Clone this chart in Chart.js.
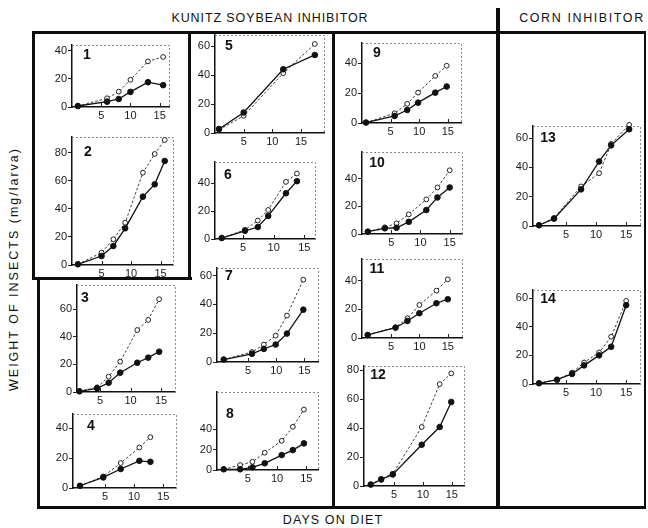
<!DOCTYPE html>
<html>
<head>
<meta charset="utf-8">
<script src="https://cdn.jsdelivr.net/npm/chart.js@4.4.1/dist/chart.umd.min.js"></script>
<style>
  html, body { margin: 0; padding: 0; background: #fff; }
  #page { position: relative; width: 648px; height: 528px; overflow: hidden;
          font-family: "Liberation Sans", Arial, sans-serif; color: #111; }
  .rule { position: absolute; background: #0d0d0d; }
  .title { position: absolute; white-space: nowrap; font-size: 12.5px; transform: translate(-50%, -50%); }
</style>
</head>
<body>
<div id="page">
  <div class="title" style="left:270px;top:18px;letter-spacing:0.9px">KUNITZ SOYBEAN INHIBITOR</div>
  <div class="title" style="left:582px;top:18px;letter-spacing:1.6px">CORN INHIBITOR</div>
  <div class="title" style="left:333px;top:520px;letter-spacing:1.1px">DAYS ON DIET</div>
  <div class="title" style="left:14px;top:269px;letter-spacing:2px;transform:translate(-50%,-50%) rotate(-90deg)">WEIGHT OF INSECTS (mg/larva)</div>
</div>
<script>
// Tick values shared by the small panels
const xTickDays = [5, 10, 15];
const yTicks40 = [0, 20, 40];
const yTicks60 = [0, 20, 40, 60];
const yTicks80 = [0, 20, 40, 60, 80];

// Larval weight (mg/larva) by day on diet; treated = inhibitor diet (filled), control = open circles
const days1 = [1, 6, 8, 10, 13, 15.6];
const treated1 = [0.7, 3.8, 5.7, 10.7, 17.6, 15.5];
const control1 = [0.7, 6.2, 10.9, 19.3, 32.4, 35.5];

const days2 = [1, 5, 7, 9, 12, 14, 15.7];
const treated2 = [0.5, 6.4, 13.6, 26.2, 48.8, 57.6, 74.3];
const control2 = [0.5, 8.8, 18.4, 30.2, 65.9, 79.3, 89.3];

const days3 = [1.6, 4.5, 6.4, 8.3, 11.1, 12.9, 14.7];
const treated3 = [0.5, 2.7, 6.7, 14, 21.2, 24.9, 29.2];
const control3 = [0.5, 3.4, 11.1, 22, 44.9, 52.2, 67.2];

const days4 = [0.7, 4.7, 7.7, 10.9, 12.8];
const treated4 = [1.5, 7.1, 12.7, 18.2, 17.5];
const control4 = [1.5, 7.7, 16.7, 27.1, 34];

const days5 = [0.7, 5, 11.9, 17.4];
const treated5 = [2.8, 14.2, 44.1, 54];
const control5 = [2.3, 11.9, 41.4, 61.6];

const days6 = [1.5, 5.3, 7.4, 9.1, 12, 13.8];
const treated6 = [0.7, 5.9, 8.6, 16.6, 32.9, 41.6];
const control6 = [0.7, 6.6, 13.3, 20.9, 41.1, 47.1];

const days7 = [0.7, 5.7, 7.8, 9.9, 11.9, 14.8];
const treated7 = [1.7, 5.7, 9.1, 12.1, 19.7, 36.3];
const control7 = [1.7, 6.9, 12.1, 18.3, 32.2, 57.1];

const days8 = [0.9, 3.7, 5.8, 7.9, 10.8, 12.7, 14.6];
const treated8 = [0.7, 0.7, 2.6, 6.6, 14.7, 19.6, 26.2];
const control8 = [0.7, 4.9, 8.1, 17, 28.7, 42.5, 59.5];

const days9 = [0.7, 5.7, 7.9, 9.8, 12.8, 14.8];
const treated9 = [0.3, 4.7, 8.7, 13.6, 20.3, 24.4];
const control9 = [0.3, 6.5, 12.8, 20.3, 31.5, 38.3];

const days10 = [1, 3.9, 5.9, 8, 11, 12.9, 15];
const treated10 = [1.7, 4.1, 4.5, 8.8, 17.3, 26.4, 33.6];
const control10 = [1.7, 4.8, 7.7, 14.2, 25, 33.6, 46];

const days11 = [0.9, 5.8, 7.9, 10, 13, 15];
const treated11 = [2.1, 7.2, 11.9, 17.3, 24.3, 27.1];
const control11 = [2.1, 7.5, 13.8, 23.1, 33.1, 41];

const days12 = [1, 2.8, 4.8, 9.8, 12.9, 14.9];
const treated12 = [1, 4.5, 8, 28.5, 40.7, 58];
const control12 = [1, 5, 8.4, 40.7, 70.3, 77.7];

const days13 = [0.5, 3, 7.5, 10.5, 12.5, 15.5];
const treated13 = [0.5, 5, 25, 44, 55, 66];
const control13 = [0.5, 5.5, 27, 36, 56, 69];

const days14 = [0.5, 3.5, 6, 8, 10.5, 12.5, 15];
const treated14 = [0.5, 3, 7, 13, 20, 26, 55];
const control14 = [0.5, 3, 8, 15, 22, 33, 58];

// Panel placement: plot box [left, top, right, bottom], axis ranges, number tag offset
const panels = [
  { name: '1',  days: days1,  treated: treated1,  control: control1,  yTicks: yTicks40, box: [72, 45, 169, 107],  xRange: [0, 16.6],    yMax: 44,   tag: [15, 10] },
  { name: '2',  days: days2,  treated: treated2,  control: control2,  yTicks: yTicks80, box: [72, 137, 173, 265], xRange: [0, 17.1],    yMax: 91.4, tag: [16, 15] },
  { name: '3',  days: days3,  treated: treated3,  control: control3,  yTicks: yTicks60, box: [77, 285, 175, 392], xRange: [1.2, 17.3],  yMax: 77.5, tag: [8, 13] },
  { name: '4',  days: days4,  treated: treated4,  control: control4,  yTicks: yTicks40, box: [73, 414, 176, 488], xRange: [-0.5, 17.2], yMax: 49.5, tag: [18, 12] },
  { name: '5',  days: days5,  treated: treated5,  control: control5,  yTicks: yTicks60, box: [215, 35, 324, 133], xRange: [0, 19],      yMax: 67.8, tag: [14, 11] },
  { name: '6',  days: days6,  treated: treated6,  control: control6,  yTicks: yTicks40, box: [215, 162, 315, 239], xRange: [0.4, 16.75], yMax: 55.4, tag: [13, 13] },
  { name: '7',  days: days7,  treated: treated7,  control: control7,  yTicks: yTicks60, box: [217, 268, 318, 362], xRange: [-0.5, 17.4], yMax: 65.2, tag: [12, 8] },
  { name: '8',  days: days8,  treated: treated8,  control: control8,  yTicks: yTicks40, box: [217, 392, 318, 470], xRange: [-0.25, 17],  yMax: 76.8, tag: [13, 22] },
  { name: '9',  days: days9,  treated: treated9,  control: control9,  yTicks: yTicks40, box: [362, 43, 461, 123], xRange: [0, 17.3],    yMax: 53.5, tag: [15, 10] },
  { name: '10', days: days10, treated: treated10, control: control10, yTicks: yTicks40, box: [362, 152, 462, 234], xRange: [0, 17.1],    yMax: 59.2, tag: [15, 11] },
  { name: '11', days: days11, treated: treated11, control: control11, yTicks: yTicks40, box: [362, 259, 462, 338], xRange: [-0.1, 17.5], yMax: 55.2, tag: [15, 10] },
  { name: '12', days: days12, treated: treated12, control: control12, yTicks: yTicks80, box: [364, 366, 464, 486], xRange: [-0.17, 17.1], yMax: 82.8, tag: [14, 9] },
  { name: '13', days: days13, treated: treated13, control: control13, yTicks: yTicks60, box: [533, 126, 640, 226], xRange: [-0.5, 17.3], yMax: 68.2, tag: [15, 12] },
  { name: '14', days: days14, treated: treated14, control: control14, yTicks: yTicks60, box: [533, 290, 640, 384], xRange: [-0.5, 17.3], yMax: 65.6, tag: [15, 9] }
];

// Heavy frame rules [x, y, w, h]
const frameRules = [
  [32, 31, 614, 3],   // top
  [32, 31, 3, 249],   // left, upper box
  [32, 277, 160, 3],  // under panels 1-2
  [188, 31, 3, 249],  // right of panels 1-2
  [37, 277, 3, 232],  // left, lower part
  [332, 31, 3, 478],  // between columns 2 and 3
  [496, 8, 4, 501],   // soybean | corn divider
  [37, 506, 609, 3],  // bottom
  [644, 31, 2, 478]   // right
];

const page = document.getElementById('page');
frameRules.forEach(([x, y, w, h]) => {
  const d = document.createElement('div');
  d.className = 'rule';
  d.style.cssText = `left:${x}px;top:${y}px;width:${w}px;height:${h}px`;
  page.appendChild(d);
});

const AXIS_W = 30, AXIS_H = 16, PAD_T = 8, PAD_R = 6;
const tickFont = { family: '"Liberation Sans", Arial, sans-serif', size: 11 };

// Faint box edges, inward day ticks and the panel number
const panelDecor = {
  id: 'panelDecor',
  beforeDatasetsDraw(chart, args, opts) {
    const { ctx, chartArea: a } = chart;
    ctx.save();
    ctx.strokeStyle = '#8a8a8a';
    ctx.lineWidth = 1;
    ctx.setLineDash([2, 2]);
    ctx.beginPath();
    ctx.moveTo(a.left, a.top + 0.5);
    ctx.lineTo(a.right + 0.5, a.top + 0.5);
    ctx.lineTo(a.right + 0.5, a.bottom);
    ctx.stroke();
    ctx.setLineDash([]);
    ctx.strokeStyle = '#222';
    const xs = chart.scales.x;
    xTickDays.forEach(v => {
      const px = Math.round(xs.getPixelForValue(v)) + 0.5;
      ctx.beginPath();
      ctx.moveTo(px, a.bottom);
      ctx.lineTo(px, a.bottom - 4);
      ctx.stroke();
    });
    ctx.restore();
  },
  afterDatasetsDraw(chart, args, opts) {
    const { ctx, chartArea: a } = chart;
    ctx.save();
    ctx.fillStyle = '#111';
    ctx.font = 'bold 14px "Liberation Sans", Arial, sans-serif';
    ctx.textAlign = 'center';
    ctx.textBaseline = 'middle';
    ctx.fillText(opts.text, a.left + opts.dx, a.top + opts.dy);
    ctx.restore();
  }
};

panels.forEach(p => {
  const [L, T, R, B] = p.box;
  const w = R - L + AXIS_W + PAD_R;
  const h = B - T + PAD_T + AXIS_H;
  const c = document.createElement('canvas');
  c.width = w; c.height = h;
  c.style.cssText = `position:absolute;left:${L - AXIS_W}px;top:${T - PAD_T}px;width:${w}px;height:${h}px`;
  page.appendChild(c);

  const pts = arr => p.days.map((d, i) => ({ x: d, y: arr[i] }));

  new Chart(c, {
    type: 'line',
    data: {
      datasets: [
        { label: 'inhibitor', data: pts(p.treated), borderColor: '#111', borderWidth: 1.3,
          pointRadius: 2.8, pointBackgroundColor: '#111', pointBorderColor: '#111', pointBorderWidth: 1,
          tension: 0, clip: false },
        { label: 'control', data: pts(p.control), borderColor: '#3a3a3a', borderWidth: 1, borderDash: [2.5, 2],
          pointRadius: 2.4, pointBackgroundColor: '#fff', pointBorderColor: '#222', pointBorderWidth: 1,
          tension: 0, clip: false }
      ]
    },
    options: {
      responsive: false,
      animation: false,
      devicePixelRatio: 1,
      layout: { padding: { top: PAD_T, right: PAD_R, left: 0, bottom: 0 } },
      plugins: {
        legend: { display: false },
        tooltip: { enabled: false },
        panelDecor: { text: p.name, dx: p.tag[0], dy: p.tag[1] }
      },
      scales: {
        x: {
          type: 'linear', min: p.xRange[0], max: p.xRange[1],
          afterBuildTicks: s => { s.ticks = xTickDays.map(v => ({ value: v })); },
          afterFit: s => { s.height = AXIS_H; },
          grid: { display: false, drawTicks: false },
          border: { display: true, color: '#111', width: 1.5 },
          ticks: { font: tickFont, color: '#1a1a1a', padding: 2, maxRotation: 0, autoSkip: false,
                   callback: v => String(v) }
        },
        y: {
          type: 'linear', min: 0, max: p.yMax,
          afterBuildTicks: s => { s.ticks = p.yTicks.map(v => ({ value: v })); },
          afterFit: s => { s.width = AXIS_W; },
          grid: { drawOnChartArea: false, drawTicks: true, tickLength: 4, color: '#222', lineWidth: 1 },
          border: { display: true, color: '#111', width: 1.5 },
          ticks: { font: tickFont, color: '#1a1a1a', padding: 1, autoSkip: false,
                   callback: v => String(v) }
        }
      }
    },
    plugins: [panelDecor]
  });
});
</script>
</body>
</html>
